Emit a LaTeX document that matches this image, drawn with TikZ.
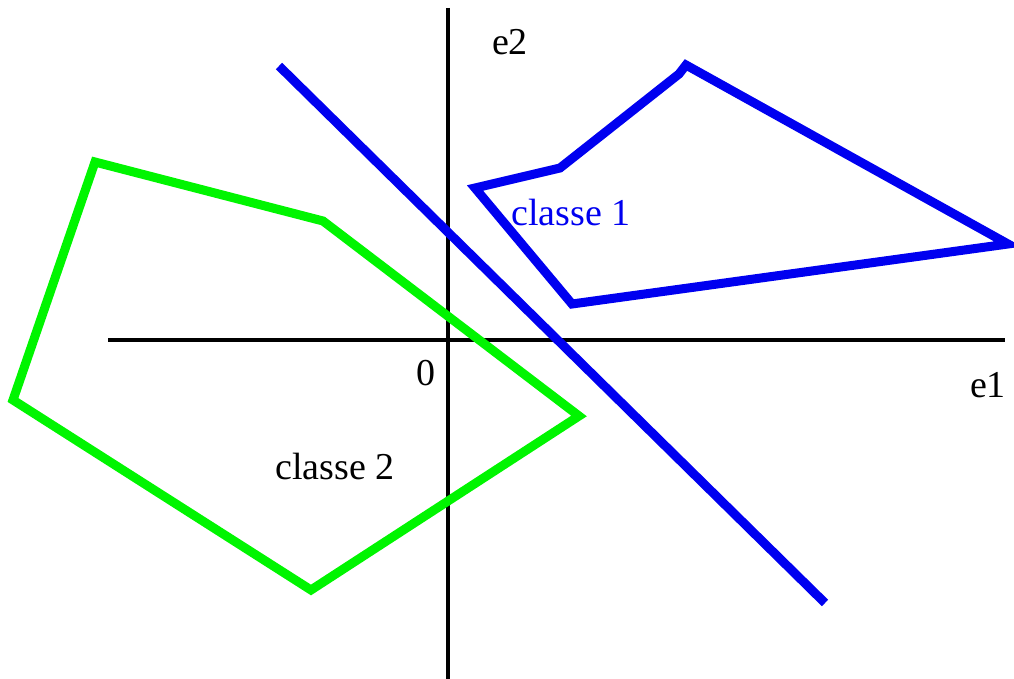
\documentclass[tikz,border=0pt]{standalone}
\usepackage{fontspec}
\setmainfont{Liberation Serif}
\definecolor{pblue}{RGB}{0,0,240}
\definecolor{pgreen}{RGB}{0,245,0}
\begin{document}
\begin{tikzpicture}[x=0.5pt,y=-0.5pt,
  axis/.style={line width=2pt,black},
  bluepoly/.style={line width=4.5pt,pblue},
  greenpoly/.style={line width=4.5pt,pgreen},
  lbl/.style={font=\fontsize{19}{22}\selectfont,inner sep=0pt}]
\useasboundingbox (0,0) rectangle (1014,679);
% axes
\coordinate (ytop) at (448,8);
\coordinate (ybot) at (448,679);
\coordinate (xl) at (108,340);
\coordinate (xr) at (1005,340);
\draw[axis] (ytop) -- (ybot);
\draw[axis] (xl) -- (xr);
% separating line
\coordinate (s1) at (279,66);
\coordinate (s2) at (825,603);
\draw[bluepoly] (s1) -- (s2);
% class 1 polygon
\coordinate (b1) at (475,188);
\coordinate (b2) at (560,168);
\coordinate (b3) at (679,74);
\coordinate (b4) at (686,65);
\coordinate (b5) at (1008,244);
\coordinate (b6) at (572,304);
\draw[bluepoly] (b1) -- (b2) -- (b3) -- (b4) -- (b5) -- (b6) -- cycle;
% class 2 polygon
\coordinate (g1) at (95,162);
\coordinate (g2) at (323,221);
\coordinate (g3) at (579,416);
\coordinate (g4) at (311,590);
\coordinate (g5) at (13,400);
\draw[greenpoly] (g1) -- (g2) -- (g3) -- (g4) -- (g5) -- cycle;
% labels
\node[lbl] (e2) at (510,42) {e2};
\node[lbl] (e1) at (988,385) {e1};
\node[lbl] (o) at (426,373) {0};
\node[lbl,text=pblue] (c1) at (571,213) {classe 1};
\node[lbl] (c2) at (335,467) {classe 2};
\end{tikzpicture}
\end{document}
